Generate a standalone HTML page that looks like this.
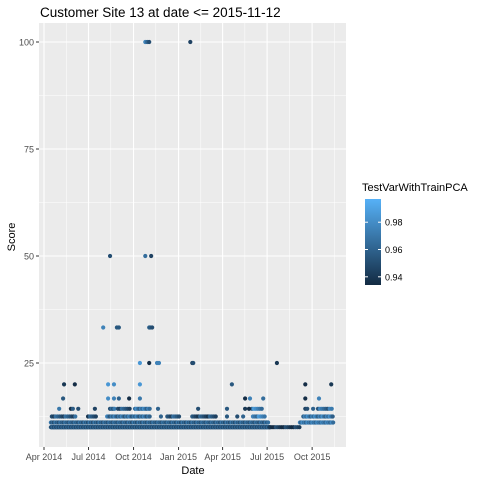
<!DOCTYPE html>
<html><head><meta charset="utf-8"><style>
body{margin:0;background:#fff;}
svg text{font-family:"Liberation Sans",sans-serif;}
</style></head><body>
<svg id="chart" width="480" height="480" xmlns="http://www.w3.org/2000/svg">
<rect width="480" height="480" fill="#fff"/>
<text x="40" y="17" font-size="13.5" fill="#000">Customer Site 13 at date &lt;= 2015-11-12</text>
<rect x="39" y="23" width="307" height="424" fill="#EBEBEB"/>
<g id="grid"></g>
<g id="points"></g>
<g id="axes"></g>
<text x="193" y="474" font-size="11" text-anchor="middle">Date</text>
<text transform="translate(15,237) rotate(-90)" font-size="11" text-anchor="middle">Score</text>
<text x="362" y="191" font-size="11">TestVarWithTrainPCA</text>
<defs><linearGradient id="lg" x1="0" y1="1" x2="0" y2="0"><stop offset="0" stop-color="#132B43"/><stop offset="1" stop-color="#56B1F7"/></linearGradient></defs>
<rect x="365" y="199" width="16" height="86" fill="url(#lg)"/>
<g id="legend"></g>
</svg>
<script>
// Data: day offsets from 2014-04-01
const xTickLabels = ["Apr 2014","Jul 2014","Oct 2014","Jan 2015","Apr 2015","Jul 2015","Oct 2015"];
const xTickDays = [0,91,183,275,365,456,548];
const yTickValues = [25,50,75,100];
const legendTicks = [0.94,0.96,0.98];
// dense segments: [startDay, endDay, stepDays, score, colorValue]
const segStart = [14,14,462,523,16,90,129,252,303,427,530,55,135,151,186,425,560];
const segEnd   = [462,458,523,591,67,108,217,278,354,452,591,59,145,176,217,448,591];
const segStep  = [1,2,4,2,4,4,3,4,4,4,3,4,3,4,3,4,4];
const segScore = [10,11.1,10,11.1,12.5,12.5,12.5,12.5,12.5,12.5,12.5,14.3,14.3,14.3,14.3,14.3,14.3];
const segColor = [0.955,0.96,0.94,0.97,0.955,0.95,0.965,0.955,0.95,0.975,0.97,0.945,0.96,0.955,0.97,0.975,0.965];
// individual points
const ptDay   = [239,374,395,407,31,70,104,233,315,374,411,419,534,538,550,39,131,143,153,174,196,411,421,448,534,562,41,63,131,143,196,384,534,587,196,215,231,235,303,305,476,121,149,153,215,217,221,135,207,219,207,211,215,299];
const ptScore = [12.5,12.5,12.5,12.5,14.3,14.3,14.3,14.3,14.3,14.3,14.3,14.3,14.3,14.3,14.3,16.7,16.7,16.7,16.7,16.7,16.7,16.7,16.7,16.7,16.7,16.7,20,20,20,20,20,20,20,20,25,25,25,25,25,25,25,33.3,33.3,33.3,33.3,33.3,33.3,50,50,50,100,100,100,100];
const ptColor = [0.96,0.955,0.95,0.96,0.97,0.95,0.945,0.96,0.95,0.955,0.94,0.935,0.945,0.95,0.96,0.955,0.98,0.975,0.96,0.935,0.97,0.935,0.975,0.965,0.935,0.975,0.94,0.935,0.985,0.98,0.985,0.955,0.935,0.94,0.985,0.935,0.975,0.975,0.945,0.95,0.94,0.975,0.955,0.955,0.96,0.955,0.95,0.95,0.965,0.945,0.975,0.96,0.95,0.945];

const NS="http://www.w3.org/2000/svg";
const X0=44, XS=0.4893;
const xs=d=>X0+d*XS;
const ys=v=>363-(v-25)*4.28;
function col(v){let t=(v-0.934)/(0.997-0.934);t=Math.max(0,Math.min(1,t));
 const a=[0x13,0x2B,0x43],b=[0x56,0xB1,0xF7];
 return "rgb("+a.map((c,i)=>Math.round(c+(b[i]-c)*t)).join(",")+")";}
function mk(tag,attrs,parent){const e=document.createElementNS(NS,tag);for(const k in attrs)e.setAttribute(k,attrs[k]);parent.appendChild(e);return e;}
const grid=document.getElementById('grid'),pts=document.getElementById('points'),axes=document.getElementById('axes'),leg=document.getElementById('legend');
// minor grid
for(let i=0;i<yTickValues.length;i++){const v=yTickValues[i]-12.5;
 const l=mk('line',{x1:39,x2:346,y1:ys(v),y2:ys(v),stroke:'#fff','stroke-width':0.5},grid);
 }
for(let i=0;i<xTickDays.length;i++){const d=xTickDays[i]+45.5;
 if(xs(d)<346){const l=mk('line',{x1:xs(d),x2:xs(d),y1:23,y2:447,stroke:'#fff','stroke-width':0.5},grid);
 }}
{const l=mk('line',{x1:xs(-45.5),x2:xs(-45.5),y1:23,y2:447,stroke:'#fff','stroke-width':0.5},grid);}
// major grid + ticks
yTickValues.forEach(v=>{const y=ys(v);
 const g=mk('line',{x1:39,x2:346,y1:y,y2:y,stroke:'#fff','stroke-width':1.1},grid);
 
 mk('line',{x1:36,x2:39,y1:y,y2:y,stroke:'#333','stroke-width':1},axes);
 const t=mk('text',{x:34,y:y+3.5,'font-size':9,'text-anchor':'end',fill:'#4D4D4D'},axes);t.textContent=v;
 });
xTickDays.forEach((d,i)=>{const x=xs(d);
 const g=mk('line',{x1:x,x2:x,y1:23,y2:447,stroke:'#fff','stroke-width':1.1},grid);
 
 mk('line',{x1:x,x2:x,y1:447,y2:450,stroke:'#333','stroke-width':1},axes);
 const t=mk('text',{x:x,y:460,'font-size':9,'text-anchor':'middle',fill:'#4D4D4D'},axes);t.textContent=xTickLabels[i];
 });
// points
for(let s=0;s<segStart.length;s++){
 for(let d=segStart[s];d<=segEnd[s];d+=segStep[s]){
  const c=mk('circle',{cx:xs(d),cy:ys(segScore[s]),r:2.1,fill:col(segColor[s]+((d%5)-2)*0.006)},pts);
  
  
 }}
for(let i=0;i<ptDay.length;i++){
 const c=mk('circle',{cx:xs(ptDay[i]),cy:ys(ptScore[i]),r:2.1,fill:col(ptColor[i])},pts);
 
 }
// legend
legendTicks.forEach(v=>{const y=199+(0.997-v)/(0.997-0.934)*86;
 mk('line',{x1:365,x2:368,y1:y,y2:y,stroke:'#fff'},leg);mk('line',{x1:378,x2:381,y1:y,y2:y,stroke:'#fff'},leg);
 const t=mk('text',{x:385,y:y+3.5,'font-size':9,fill:'#000'},leg);t.textContent=v.toFixed(2);
 });
</script>
</body></html>
